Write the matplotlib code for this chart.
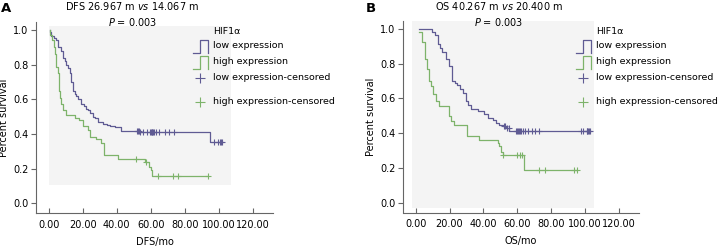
"""Kaplan-Meier curves for HIF1a low/high expression (DFS and OS)."""
import numpy as np
import matplotlib
matplotlib.use("Agg")
import matplotlib.pyplot as plt
from matplotlib.patches import Rectangle
from matplotlib.lines import Line2D

# ---- data ------------------------------------------------------------------
dfs_low_t = [0.5, 0.8, 1.5, 3, 4, 5.5, 7, 8.4, 9.5, 10.4, 11.5, 12.4, 13.3, 14.3,
             15.3, 16.3, 17.5, 19.2, 20.5, 22, 23, 24.5, 26, 27, 29, 32, 34, 36,
             38.8, 42.8, 53.5, 94.7]
dfs_low_s = [1.0, 0.99, 0.966, 0.955, 0.94, 0.90, 0.88, 0.84, 0.82, 0.80, 0.78,
             0.75, 0.70, 0.65, 0.63, 0.62, 0.60, 0.575, 0.56, 0.545, 0.537, 0.52,
             0.50, 0.49, 0.47, 0.46, 0.45, 0.445, 0.44, 0.42, 0.413, 0.352]
dfs_low_cens = [52, 52.5, 53, 54, 55.5, 58, 59.5, 60, 60.5, 61, 61.5, 62, 63, 65,
                68.6, 71, 74, 97, 99.5, 101, 101.5, 102]

dfs_high_t = [0.5, 1, 2.2, 3, 3.5, 4.5, 5.5, 6, 6.7, 7.5, 8.4, 10, 15.3, 17.8, 20,
              23, 24, 28, 31, 32.4, 40.5, 56.7, 59, 60, 61]
dfs_high_s = [1.0, 0.97, 0.94, 0.90, 0.86, 0.785, 0.75, 0.65, 0.61, 0.575, 0.537,
              0.51, 0.49, 0.48, 0.446, 0.423, 0.385, 0.37, 0.35, 0.28, 0.257,
              0.238, 0.21, 0.19, 0.16]
dfs_high_cens = [51.6, 57.5, 64.3, 73, 76, 93.5]

os_low_t = [2, 9.9, 11.5, 12.9, 14.3, 15.8, 17.8, 19.8, 21.4, 23, 24.7, 26.2, 27.7,
            29.7, 31, 32.6, 36.6, 40.6, 43, 45.5, 47.5, 49.4, 51.4, 53.4, 55.4]
os_low_s = [1.0, 0.98, 0.965, 0.915, 0.89, 0.866, 0.827, 0.788, 0.70, 0.69, 0.68,
            0.655, 0.634, 0.585, 0.56, 0.54, 0.527, 0.508, 0.49, 0.478, 0.46,
            0.449, 0.44, 0.43, 0.414]
os_low_cens = [52, 53, 54, 55, 59.3, 60, 60.5, 61, 61.5, 62.3, 63.3, 64.5, 66.3,
               69, 70.8, 73, 98, 99, 101, 101.5, 102, 102.5, 103]

os_high_t = [2, 4, 5.5, 6.9, 7.9, 8.9, 10.3, 11.9, 13.9, 19.4, 20.8, 22.7, 30.3,
             37.6, 48.5, 49.5, 50.4, 51.4, 64.3]
os_high_s = [0.98, 0.924, 0.827, 0.77, 0.70, 0.672, 0.624, 0.585, 0.556, 0.498,
             0.469, 0.45, 0.385, 0.362, 0.347, 0.327, 0.294, 0.275, 0.188]
os_high_cens = [51.4, 59.9, 61.5, 63, 72.6, 76.5, 93.5, 95.5]

legend_title = "HIF1α"
legend_labels = ["low expression", "high expression",
                 "low expression-censored", "high expression-censored"]
x_ticks = [0, 20, 40, 60, 80, 100, 120]
y_ticks = [0.0, 0.2, 0.4, 0.6, 0.8, 1.0]

PURPLE = "#5f5b93"
GREEN = "#7db36a"
BG = "#f4f4f4"
AXC = "#666666"
FS = 7.0
LFS = 6.8

W, H = 728, 248
plt.rcParams["font.family"] = ["DejaVu Sans"]
fig = plt.figure(figsize=(W / 100, H / 100), dpi=100)


def fx(px):
    return px / W


def fy(py):
    return 1 - py / H


def km(ax, t, s, cens, color):
    t = np.asarray(t, float)
    s = np.asarray(s, float)
    cens = np.asarray(cens, float)
    end = max(t[-1], cens.max())
    tt = np.append(t, end)
    ss = np.append(s, s[-1])
    ax.step(tt, ss, where="post", color=color, lw=0.9, zorder=3)
    idx = np.searchsorted(t, cens, side="right") - 1
    ax.plot(cens, s[idx], ls="none", marker="+", ms=4, mew=0.8, color=color,
            zorder=4)


def panel(rect, bg, curves, title, xlabel, tag, tag_x, leg_x):
    ax = fig.add_axes(rect)
    ax.set_xlim(-7.5, 132)
    ax.set_ylim(-0.055, 1.045)
    ax.add_patch(Rectangle(bg[:2], bg[2], bg[3], color=BG, lw=0, zorder=0))
    for t, s, c, col in curves:
        km(ax, t, s, c, col)
    for side in ("top", "right"):
        ax.spines[side].set_visible(False)
    for side in ("left", "bottom"):
        ax.spines[side].set_color(AXC)
        ax.spines[side].set_linewidth(0.8)
    ax.set_xticks(x_ticks)
    ax.set_xticklabels([f"{v:.2f}" for v in x_ticks])
    ax.set_yticks(y_ticks)
    ax.set_yticklabels([f"{v:.1f}" for v in y_ticks])
    ax.tick_params(axis="x", direction="in", length=3.5, color=AXC,
                   labelsize=FS, pad=5)
    ax.tick_params(axis="y", direction="out", length=3.5, color=AXC,
                   labelsize=FS, pad=2)
    ax.set_xlabel(xlabel, fontsize=FS, labelpad=5)
    ax.set_ylabel("Percent survival", fontsize=FS, labelpad=3)

    # titles and panel tag
    cx = fx((rect[0] + rect[2] / 2) * W - 22)
    fig.text(cx, fy(6), title[0], ha="center", va="center", fontsize=FS)
    fig.text(cx, fy(22), title[1], ha="center", va="center", fontsize=FS)
    fig.text(fx(tag_x), fy(9), tag, ha="left", va="center", fontsize=9.5,
             fontweight="bold")

    # legend drawn by hand
    tx = leg_x + 20
    fig.text(fx(tx), fy(32), legend_title, ha="left", va="center", fontsize=LFS)
    rows = [46, 62, 77, 101]
    for i, col in enumerate([PURPLE, GREEN]):
        y0, y1 = rows[i] + 7, rows[i] - 6
        xs = [leg_x, leg_x + 7, leg_x + 7, leg_x + 15, leg_x + 15]
        ys = [y0, y0, y1, y1, y0]
        fig.add_artist(Line2D([fx(v) for v in xs], [fy(v) for v in ys],
                              color=col, lw=0.9))
    for i, col in enumerate([PURPLE, GREEN]):
        fig.add_artist(Line2D([fx(leg_x + 7)], [fy(rows[i + 2] + 1)], ls="none",
                              marker="+", ms=7, mew=0.8, color=col))
    for lab, r in zip(legend_labels, rows):
        fig.text(fx(tx), fy(r), lab, ha="left", va="center", fontsize=LFS)
    return ax


panel([fx(36), fy(213), fx(273 - 36), (213 - 22) / H],
      (0, 0.105, 107.5, 0.918),
      [(dfs_low_t, dfs_low_s, dfs_low_cens, PURPLE),
       (dfs_high_t, dfs_high_s, dfs_high_cens, GREEN)],
      (r"DFS 26.967 m $\it{vs}$ 14.067 m", r"$\it{P}$ = 0.003"),
      "DFS/mo", "A", 1, 193)

panel([fx(403), fy(212.5), fx(639 - 403), (212.5 - 21) / H],
      (-2.4, -0.03, 108, 1.08),
      [(os_low_t, os_low_s, os_low_cens, PURPLE),
       (os_high_t, os_high_s, os_high_cens, GREEN)],
      (r"OS 40.267 m $\it{vs}$ 20.400 m", r"$\it{P}$ = 0.003"),
      "OS/mo", "B", 366, 576)

fig.savefig("out.png", dpi=100)
